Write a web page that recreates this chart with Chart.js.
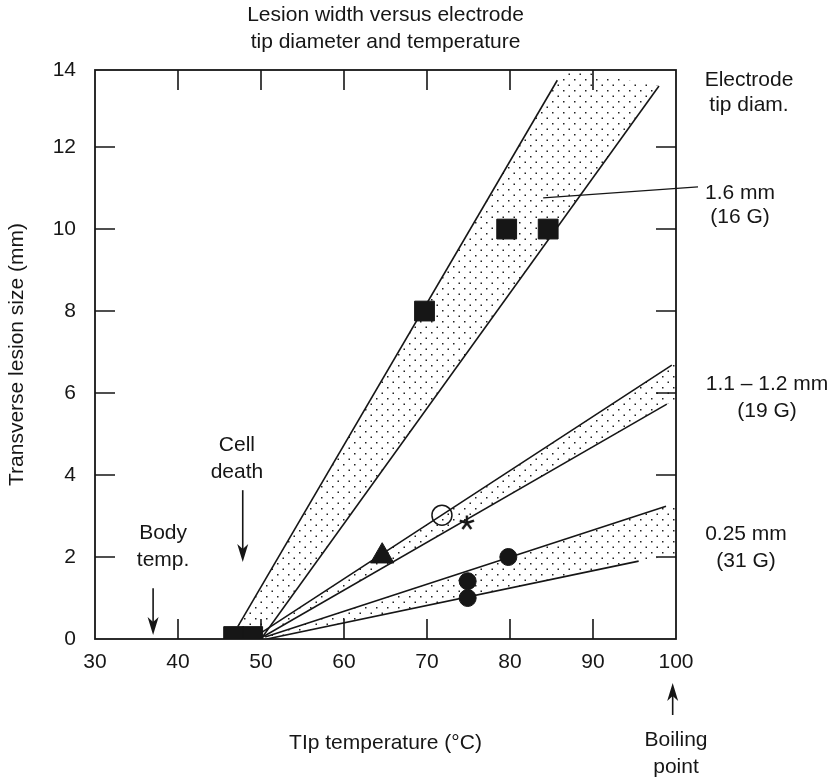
<!DOCTYPE html>
<html>
<head>
<meta charset="utf-8">
<script src="https://cdn.jsdelivr.net/npm/chart.js@4.4.0/dist/chart.umd.min.js"></script>
<style>
  body { margin: 0; background: #fff; }
</style>
</head>
<body>
<canvas id="lesionChart" width="833" height="779"></canvas>
<script>
// axis ticks
const xTicks = [30, 40, 50, 60, 70, 80, 90, 100];
const yTicks = [0, 2, 4, 6, 8, 10, 12, 14];
const yTop = 13.88;

// band edges (deg C, mm)
const band16Left = [{x: 47.2, y: 0.3}, {x: 85.7, y: 13.63}];
const band16Right = [{x: 50, y: 0}, {x: 97.95, y: 13.49}];
const band19Upper = [{x: 50, y: 0.15}, {x: 99.5, y: 6.68}];
const band19Lower = [{x: 50.2, y: 0.05}, {x: 98.9, y: 5.73}];
const band31Upper = [{x: 50.5, y: 0.05}, {x: 98.8, y: 3.24}];
const band31Lower = [{x: 50.7, y: 0}, {x: 95.5, y: 1.9}];

// where the stippling runs on past the line ends
const cap16 = [{x: 86.6, y: 13.83}, {x: 89.0, y: 13.83}];
const cap19 = [{x: 100, y: 6.72}, {x: 100, y: 5.8}];
const cap31 = [{x: 100, y: 3.3}, {x: 100, y: 2.05}];

// measured lesions
const squares16 = [{x: 69.7, y: 8}, {x: 79.6, y: 10}, {x: 84.6, y: 10}];
const squaresBase = [{x: 46.7, y: 0.06}, {x: 49, y: 0.06}];
const triangle19 = [{x: 64.6, y: 2.02}];
const circle19 = [{x: 71.8, y: 3.02}];
const star19 = [{x: 74.8, y: 2.83}];
const dots31 = [{x: 79.8, y: 2.0}, {x: 74.9, y: 1.41}, {x: 74.9, y: 1.0}];

const FONT = "'Liberation Sans', Arial, Helvetica, sans-serif";
const INK = '#161616';
Chart.defaults.font.family = FONT;
Chart.defaults.color = INK;

function dotPattern() {
  const c = document.createElement('canvas');
  c.width = 11; c.height = 11;
  const g = c.getContext('2d');
  g.fillStyle = '#222';
  g.fillRect(2, 2, 1.5, 1.5);
  g.fillRect(7.5, 7.5, 1.5, 1.5);
  return g.createPattern(c, 'repeat');
}

function asterisk() {
  const c = document.createElement('canvas');
  c.width = 18; c.height = 18;
  const g = c.getContext('2d');
  g.strokeStyle = INK;
  g.lineWidth = 2.4;
  for (let k = 0; k < 5; k++) {
    const a = -Math.PI / 2 + k * 2 * Math.PI / 5;
    g.beginPath();
    g.moveTo(9, 9);
    g.lineTo(9 + 7.5 * Math.cos(a), 9 + 7.5 * Math.sin(a));
    g.stroke();
  }
  return c;
}

const dots = dotPattern();

function band(a, cap, b) {
  return {
    data: [a[0], a[1], ...cap, b[1], b[0]],
    showLine: true,
    fill: 'shape',
    backgroundColor: dots,
    borderColor: 'rgba(0,0,0,0)',
    borderWidth: 0,
    pointRadius: 0
  };
}

function edge(pts) {
  return {
    data: pts,
    showLine: true,
    fill: false,
    borderColor: INK,
    borderWidth: 1.6,
    pointRadius: 0
  };
}

function marks(pts, style, radius, filled) {
  return {
    data: pts,
    pointStyle: style,
    pointRadius: radius,
    pointBackgroundColor: filled ? INK : 'rgba(0,0,0,0)',
    pointBorderColor: INK,
    pointBorderWidth: filled ? 1 : 1.5
  };
}

const baseSquares = marks(squaresBase, 'rect', 14, true);
baseSquares.clip = 0;

// first listed = drawn on top
const datasets = [
  marks(squares16, 'rect', 14, true),
  baseSquares,
  marks(triangle19, 'triangle', 13.5, true),
  marks(circle19, 'circle', 10, false),
  marks(star19, asterisk(), 8, true),
  marks(dots31, 'circle', 8.5, true),
  edge(band16Left), edge(band16Right),
  edge(band19Upper), edge(band19Lower),
  edge(band31Upper), edge(band31Lower),
  band(band16Left, cap16, band16Right),
  band(band19Upper, cap19, band19Lower),
  band(band31Upper, cap31, band31Lower)
];

function arrow(ctx, x, from, tip) {
  const d = Math.sign(tip - from);
  ctx.beginPath();
  ctx.moveTo(x, from);
  ctx.lineTo(x, tip - d * 10);
  ctx.stroke();
  ctx.beginPath();
  ctx.moveTo(x, tip);
  ctx.lineTo(x - 5.5, tip - d * 18);
  ctx.lineTo(x, tip - d * 13);
  ctx.lineTo(x + 5.5, tip - d * 18);
  ctx.closePath();
  ctx.fill();
}

function lines(ctx, arr, x, y, gap) {
  arr.forEach((t, i) => ctx.fillText(t, x, y + i * gap));
}

const framePlugin = {
  id: 'frame',
  afterDatasetsDraw(chart) {
    const {ctx, chartArea: a, scales: {x, y}} = chart;
    ctx.save();
    ctx.strokeStyle = INK;
    ctx.fillStyle = INK;
    ctx.lineWidth = 1.8;
    ctx.strokeRect(a.left, a.top, a.right - a.left, a.bottom - a.top);
    ctx.lineWidth = 1.6;
    ctx.beginPath();
    xTicks.slice(1, -1).forEach(v => {
      const px = x.getPixelForValue(v);
      ctx.moveTo(px, a.bottom); ctx.lineTo(px, a.bottom - 20);
      ctx.moveTo(px, a.top); ctx.lineTo(px, a.top + 20);
    });
    yTicks.slice(1, -1).forEach(v => {
      const py = y.getPixelForValue(v);
      ctx.moveTo(a.left, py); ctx.lineTo(a.left + 20, py);
      ctx.moveTo(a.right, py); ctx.lineTo(a.right - 20, py);
    });
    ctx.stroke();

    // leader to the 1.6 mm label
    ctx.lineWidth = 1.3;
    ctx.beginPath();
    ctx.moveTo(x.getPixelForValue(84.0), y.getPixelForValue(10.76));
    ctx.lineTo(a.right + 22, y.getPixelForValue(11.03));
    ctx.stroke();

    // arrows
    ctx.lineWidth = 1.6;
    arrow(ctx, x.getPixelForValue(37), y.getPixelForValue(1.24), y.getPixelForValue(0.1));
    arrow(ctx, x.getPixelForValue(47.8), y.getPixelForValue(3.63), y.getPixelForValue(1.88));
    arrow(ctx, x.getPixelForValue(99.6), a.bottom + 76, a.bottom + 44);

    // annotation text
    ctx.font = '21px ' + FONT;
    ctx.textAlign = 'center';
    ctx.textBaseline = 'middle';
    lines(ctx, ['Body', 'temp.'], x.getPixelForValue(38.2), y.getPixelForValue(2.59), 27);
    lines(ctx, ['Cell', 'death'], x.getPixelForValue(47.1), y.getPixelForValue(4.73), 27);
    lines(ctx, ['Boiling', 'point'], x.getPixelForValue(100), a.bottom + 101, 27);
    lines(ctx, ['Electrode', 'tip diam.'], a.right + 73, a.top + 10, 25);
    lines(ctx, ['1.6 mm', '(16 G)'], a.right + 64, y.getPixelForValue(10.88), 24);
    lines(ctx, ['1.1 \u2013 1.2 mm', '(19 G)'], a.right + 91, y.getPixelForValue(6.22), 27);
    lines(ctx, ['0.25 mm', '(31 G)'], a.right + 70, y.getPixelForValue(2.56), 27);
    ctx.restore();
  }
};

new Chart(document.getElementById('lesionChart'), {
  type: 'scatter',
  data: {datasets: datasets},
  options: {
    responsive: false,
    animation: false,
    layout: {padding: {right: 157}},
    plugins: {
      legend: {display: false},
      tooltip: {enabled: false},
      title: {
        display: true,
        fullSize: false,
        text: ['Lesion width versus electrode', 'tip diameter and temperature'],
        color: INK,
        font: {size: 21, weight: 'normal', lineHeight: '27px'},
        padding: {top: 1.5, bottom: 14.5}
      }
    },
    scales: {
      x: {
        type: 'linear',
        min: 30,
        max: 100,
        afterFit: s => { s.height = 140; },
        afterBuildTicks: s => { s.ticks = xTicks.map(v => ({value: v})); },
        grid: {display: false, drawTicks: false},
        border: {display: false},
        ticks: {padding: 11, color: INK, font: {size: 21}},
        title: {
          display: true,
          text: 'TIp temperature (\u00b0C)',
          color: INK,
          font: {size: 21},
          padding: {top: 0, bottom: 23}
        }
      },
      y: {
        type: 'linear',
        min: 0,
        max: yTop,
        afterFit: s => { s.width = 95; },
        afterBuildTicks: s => { s.ticks = yTicks.map(v => ({value: Math.min(v, yTop)})); },
        grid: {display: false, drawTicks: false},
        border: {display: false},
        ticks: {padding: 19, color: INK, font: {size: 21}, callback: (v, i) => yTicks[i]},
        title: {
          display: true,
          text: 'Transverse lesion size (mm)',
          color: INK,
          font: {size: 21},
          padding: {top: 5, bottom: 0}
        }
      }
    }
  },
  plugins: [framePlugin]
});
</script>
</body>
</html>
